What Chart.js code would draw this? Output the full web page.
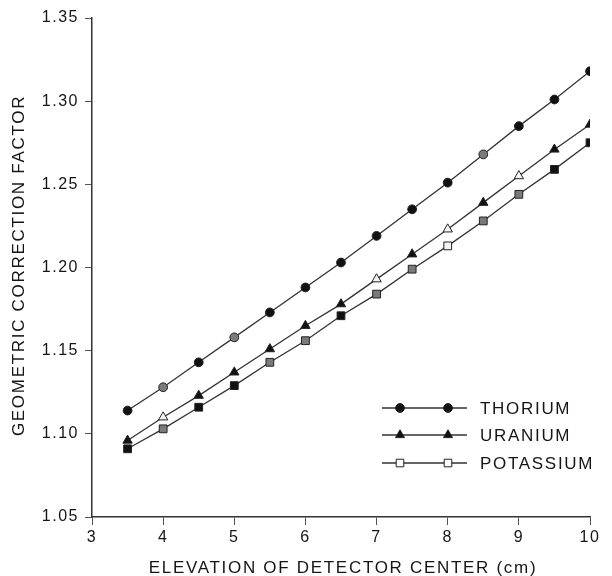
<!DOCTYPE html>
<html>
<head>
<meta charset="utf-8">
<script src="https://cdn.jsdelivr.net/npm/chart.js@4"></script>
<style>
  html, body { margin: 0; padding: 0; background: #fff; }
  #wrap { width: 612px; height: 576px; }
</style>
</head>
<body>
<div id="wrap"><canvas id="chart" width="612" height="576"></canvas></div>
<script>
// elevation of detector center (cm)
var elevations = [3.5, 4, 4.5, 5, 5.5, 6, 6.5, 7, 7.5, 8, 8.5, 9, 9.5, 10];
// geometric correction factor
var thorium   = [1.114, 1.128, 1.143, 1.158, 1.173, 1.188, 1.203, 1.219, 1.235, 1.251, 1.268, 1.285, 1.301, 1.318];
var uranium   = [1.096, 1.110, 1.123, 1.137, 1.151, 1.165, 1.178, 1.193, 1.208, 1.223, 1.239, 1.255, 1.271, 1.286];
var potassium = [1.091, 1.103, 1.116, 1.129, 1.143, 1.156, 1.171, 1.184, 1.199, 1.213, 1.228, 1.244, 1.259, 1.275];
var seriesNames = ["THORIUM", "URANIUM", "POTASSIUM"];
var yTicks = [1.05, 1.10, 1.15, 1.20, 1.25, 1.30, 1.35];
var xTicks = [3, 4, 5, 6, 7, 8, 9, 10];
var xTitle = "ELEVATION OF DETECTOR CENTER (cm)";
var yTitle = "GEOMETRIC CORRECTION FACTOR";

var FONT = '"Liberation Sans", Arial, sans-serif';
var INK = "#151515";

// the scan shows some markers filled, some grey, some open
var B = "#111", G = "#7a7a7a", W = "#f4f4f4";
var thFill = [B, G, B, G, B, B, B, B, B, B, G, B, B, B];
var urFill = [B, W, B, B, B, B, B, W, B, W, B, W, B, B];
var kFill  = [B, G, B, B, G, G, B, G, G, W, G, G, B, B];

function toPoints(values) {
	var pts = [];
	for (var i = 0; i < elevations.length; i++) {
		pts.push({x: elevations[i], y: values[i]});
	}
	return pts;
}

function makeDataSet(label, values, style, radius, fills) {
	return {
		label: label,
		data: toPoints(values),
		borderColor: "#333",
		borderWidth: 1.3,
		pointStyle: style,
		pointRadius: radius,
		pointHoverRadius: radius,
		pointBackgroundColor: fills,
		pointBorderColor: "#222",
		pointBorderWidth: 1,
		tension: 0,
		fill: false
	};
}

function drawMarker(ctx, style, x, y, fill) {
	ctx.beginPath();
	if (style === "circle") {
		ctx.arc(x, y, 4.4, 0, Math.PI * 2);
	} else if (style === "triangle") {
		ctx.moveTo(x, y - 5.2);
		ctx.lineTo(x + 4.5, y + 2.6);
		ctx.lineTo(x - 4.5, y + 2.6);
		ctx.closePath();
	} else {
		ctx.rect(x - 3.8, y - 3.8, 7.6, 7.6);
	}
	ctx.fillStyle = fill;
	ctx.fill();
	ctx.strokeStyle = "#222";
	ctx.lineWidth = 1;
	ctx.stroke();
}

var textPlugin = {
	id: "textPlugin",
	beforeDraw: function(chart) {
		chart.ctx.letterSpacing = "1.5px";
	},
	afterDraw: function(chart) {
		var ctx = chart.ctx;
		var area = chart.chartArea;
		ctx.save();
		ctx.letterSpacing = "1.7px";
		ctx.fillStyle = INK;
		ctx.font = "17px " + FONT;
		ctx.textAlign = "center";
		ctx.textBaseline = "alphabetic";
		// x axis title
		ctx.fillText(xTitle, (area.left + area.right) / 2 + 2, 573);
		// y axis title
		ctx.save();
		ctx.translate(24, (area.top + area.bottom) / 2 - 2);
		ctx.rotate(-Math.PI / 2);
		ctx.fillText(yTitle, 0, 0);
		ctx.restore();

		// legend: a line with two markers per series
		var styles = ["circle", "triangle", "rect"];
		var fills = [B, B, "#fff"];
		var rows = [408, 435, 463];
		var x0 = area.right - 208;
		for (var i = 0; i < seriesNames.length; i++) {
			var y = rows[i];
			ctx.beginPath();
			ctx.moveTo(x0, y);
			ctx.lineTo(x0 + 85, y);
			ctx.strokeStyle = "#333";
			ctx.lineWidth = 1.3;
			ctx.stroke();
			drawMarker(ctx, styles[i], x0 + 18, y, fills[i]);
			drawMarker(ctx, styles[i], x0 + 66, y, fills[i]);
			ctx.fillStyle = INK;
			ctx.textAlign = "left";
			ctx.textBaseline = "middle";
			ctx.font = "17px " + FONT;
			ctx.fillText(seriesNames[i], x0 + 98, y + 1);
		}
		ctx.restore();
	}
};

var ctx = document.getElementById("chart").getContext("2d");
var chart = new Chart(ctx, {
	type: "line",
	data: {
		datasets: [
			makeDataSet(seriesNames[0], thorium, "circle", 4.4, thFill),
			makeDataSet(seriesNames[1], uranium, "triangle", 5.4, urFill),
			makeDataSet(seriesNames[2], potassium, "rect", 5.5, kFill)
		]
	},
	options: {
		responsive: false,
		animation: false,
		events: [],
		layout: {padding: {top: 18, right: 22, left: 0, bottom: 0}},
		plugins: {
			legend: {display: false},
			tooltip: {enabled: false},
			title: {display: false}
		},
		scales: {
			x: {
				type: "linear",
				min: xTicks[0],
				max: xTicks[xTicks.length - 1],
				afterFit: function(scale) { scale.height = 59; },
				afterBuildTicks: function(scale) {
					scale.ticks = xTicks.map(function(v) { return {value: v}; });
				},
				grid: {drawOnChartArea: false, drawTicks: true, tickLength: 8, color: "#555", lineWidth: 1},
				border: {display: true, color: "#333", width: 1.5},
				ticks: {
					color: INK,
					font: {family: FONT, size: 16},
					padding: 3,
					maxRotation: 0,
					callback: function(v) { return String(v); }
				}
			},
			y: {
				type: "linear",
				min: yTicks[0],
				max: yTicks[yTicks.length - 1],
				afterFit: function(scale) { scale.width = 92; },
				afterBuildTicks: function(scale) {
					scale.ticks = yTicks.map(function(v) { return {value: v}; });
				},
				grid: {drawOnChartArea: false, drawTicks: true, tickLength: 7, color: "#555", lineWidth: 1},
				border: {display: true, color: "#333", width: 1.5},
				ticks: {
					color: INK,
					font: {family: FONT, size: 16},
					padding: 6,
					callback: function(v) { return Number(v).toFixed(2); }
				}
			}
		}
	},
	plugins: [textPlugin]
});
</script>
</body>
</html>
